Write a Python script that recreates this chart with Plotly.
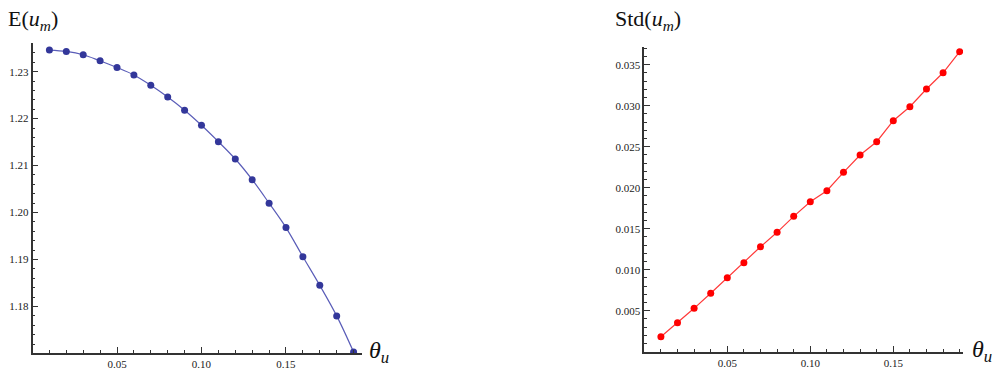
import plotly.graph_objects as go

theta = [0.01, 0.02, 0.03, 0.04, 0.05, 0.06, 0.07, 0.08, 0.09, 0.10,
         0.11, 0.12, 0.13, 0.14, 0.15, 0.16, 0.17, 0.18, 0.19]
mean_um = [1.2346, 1.2343, 1.2336, 1.2323, 1.2309, 1.2293, 1.2271, 1.2246, 1.2218, 1.2186,
           1.2151, 1.2114, 1.2070, 1.2020, 1.1968, 1.1906, 1.1845, 1.1780, 1.1703]
std_um = [0.00183, 0.00354, 0.00529, 0.00712, 0.00902, 0.01085, 0.01280, 0.01456, 0.01651, 0.01829,
          0.01963, 0.02188, 0.02399, 0.02561, 0.02817, 0.02988, 0.03204, 0.03402, 0.03659]

x_ticks = [0.05, 0.10, 0.15]
x_ticklabels = ["0.05", "0.10", "0.15"]
y1_ticks = [1.18, 1.19, 1.20, 1.21, 1.22, 1.23]
y1_ticklabels = ["1.18", "1.19", "1.20", "1.21", "1.22", "1.23"]
y2_ticks = [0.005, 0.010, 0.015, 0.020, 0.025, 0.030, 0.035]
y2_ticklabels = ["0.005", "0.010", "0.015", "0.020", "0.025", "0.030", "0.035"]

W, H = 996, 378
fig = go.Figure()

fig.add_trace(go.Scatter(
    x=theta, y=mean_um, mode="lines", line=dict(color="#5a5db8", width=1.2, shape="spline"),
    xaxis="x", yaxis="y", hoverinfo="skip"))
fig.add_trace(go.Scatter(
    x=theta, y=mean_um, mode="markers", marker=dict(color="#33379a", size=7, symbol="circle"),
    xaxis="x", yaxis="y"))
fig.add_trace(go.Scatter(
    x=theta, y=std_um, mode="lines", line=dict(color="#ff3a3a", width=1.2),
    xaxis="x2", yaxis="y2", hoverinfo="skip"))
fig.add_trace(go.Scatter(
    x=theta, y=std_um, mode="markers", marker=dict(color="#ff0000", size=7, symbol="circle"),
    xaxis="x2", yaxis="y2"))

tickfont = dict(family="Liberation Serif", size=11, color="#222222")
axis_common = dict(showgrid=False, zeroline=False, showline=True, linecolor="#333333",
                   linewidth=1.5, ticks="inside", ticklen=6, tickwidth=1, tickcolor="#333333",
                   tickfont=tickfont)

fig.update_layout(
    width=W, height=H, margin=dict(l=0, r=0, t=0, b=0),
    paper_bgcolor="white", plot_bgcolor="white", showlegend=False,
    xaxis=dict(domain=[32.5 / W, 361.7 / W], range=[0, 0.1948], anchor="y",
               tickvals=x_ticks, ticktext=x_ticklabels,
               minor=dict(dtick=0.01, tick0=0, ticks="inside", ticklen=3, tickcolor="#333333"),
               **axis_common),
    yaxis=dict(domain=[(H - 353) / H, (H - 43) / H], range=[1.1701, 1.2361], anchor="x",
               tickvals=y1_ticks, ticktext=y1_ticklabels,
               minor=dict(dtick=0.002, tick0=1.18, ticks="inside", ticklen=3, tickcolor="#333333"),
               **axis_common),
    xaxis2=dict(domain=[644.3 / W, 963 / W], range=[0, 0.192], anchor="y2",
                tickvals=x_ticks, ticktext=x_ticklabels,
                minor=dict(dtick=0.01, tick0=0, ticks="inside", ticklen=3, tickcolor="#333333"),
                **axis_common),
    yaxis2=dict(domain=[(H - 351.7) / H, (H - 46.7) / H], range=[0, 0.0372], anchor="x2",
                tickvals=y2_ticks, ticktext=y2_ticklabels,
                minor=dict(dtick=0.001, tick0=0, ticks="inside", ticklen=3, tickcolor="#333333"),
                **axis_common),
)

labfont = dict(family="Liberation Serif", size=22, color="#111111")
fig.add_annotation(text="E(<i>u</i><sub><i>m</i></sub>)", xref="paper", yref="paper",
                   x=6 / W, y=1 - 4 / H, xanchor="left", yanchor="top", showarrow=False, font=labfont)
fig.add_annotation(text="Std(<i>u</i><sub><i>m</i></sub>)", xref="paper", yref="paper",
                   x=613 / W, y=1 - 4 / H, xanchor="left", yanchor="top", showarrow=False, font=labfont)
fig.add_annotation(text="<i>θ</i><sub><i>u</i></sub>", xref="paper", yref="paper",
                   x=367 / W, y=1 - 352 / H, xanchor="left", yanchor="middle", showarrow=False,
                   font=dict(family="Liberation Serif", size=24, color="#111111"))
fig.add_annotation(text="<i>θ</i><sub><i>u</i></sub>", xref="paper", yref="paper",
                   x=970 / W, y=1 - 351 / H, xanchor="left", yanchor="middle", showarrow=False,
                   font=dict(family="Liberation Serif", size=24, color="#111111"))

fig.write_html("out.html")
